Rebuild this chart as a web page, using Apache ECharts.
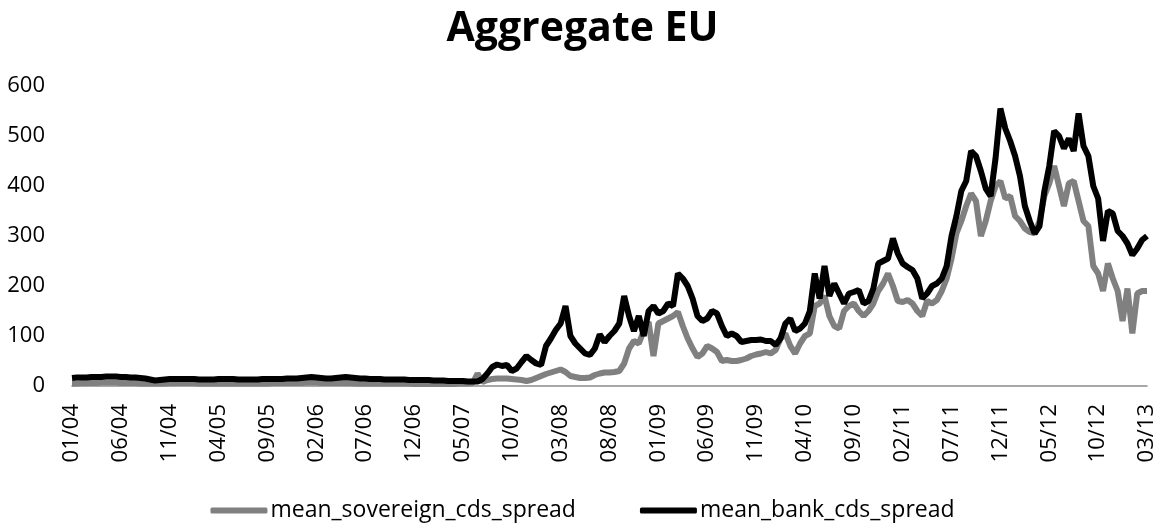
<!DOCTYPE html>
<html>
<head>
<meta charset="utf-8">
<title>Aggregate EU</title>
<script src="https://cdn.jsdelivr.net/npm/echarts@6.0.0/dist/echarts.min.js"></script>
<style>
html, body { margin:0; padding:0; background:#fff; }
#aggChart { width:1165px; height:527px; }
</style>
</head>
<body>
<div id="aggChart"></div>
<script>
// half-month steps, 01/2004 .. 03/2013
var categories = [];
for (var y = 2004; y <= 2013; y++) {
	for (var m = 1; m <= 12; m++) {
		if (y == 2013 && m > 3) break;
		var mm = (m < 10 ? '0' : '') + m;
		categories.push(y + '-' + mm + '-01');
		if (!(y == 2013 && m == 3)) categories.push(y + '-' + mm + '-16');
	}
}

var seriesNames = ['mean_sovereign_cds_spread', 'mean_bank_cds_spread'];

var sovereignSpread = [
	5,5,6,6,6,6,7,7,7,7,6,6,6,6,5,5,5,5,5,5,6,6,6,6,
	6,6,5,5,5,5,5,5,5,5,5,5,5,5,5,5,5,6,6,6,6,6,6,6,
	7,7,7,6,6,6,6,6,6,6,5,5,5,5,5,5,5,5,5,5,5,5,4,4,
	4,4,4,4,4,4,4,5,5,5,6,25,8,12,14,15,15,15,14,13,12,10,12,16,
	20,24,27,30,33,28,20,18,16,16,17,22,25,27,27,28,30,45,75,90,85,110,128,60,
	125,130,135,140,148,120,95,75,58,65,80,75,68,50,52,50,50,52,55,60,63,65,68,65,
	72,95,105,80,65,85,100,105,160,165,180,140,120,115,150,160,165,150,140,150,165,190,205,225,
	200,170,168,172,165,150,140,170,165,172,190,215,255,305,330,360,385,370,300,330,370,400,410,375,
	380,340,330,315,308,305,330,380,405,440,400,360,405,410,370,330,320,240,225,190,245,215,190,130,
	195,105,185,190,190
];

var bankSpread = [
	16,17,17,17,18,18,18,19,19,19,18,18,17,17,16,15,13,11,12,13,14,14,14,14,
	14,14,13,13,13,13,14,14,14,14,13,13,13,13,13,14,14,14,14,14,15,15,15,16,
	17,18,17,16,15,15,16,17,18,17,16,15,15,14,14,14,13,13,13,13,13,12,12,12,
	12,12,11,11,11,10,10,10,10,9,9,9,14,25,38,43,40,42,30,35,48,60,52,45,
	42,80,95,112,125,160,100,85,75,65,62,75,103,88,100,110,125,180,140,110,140,100,150,160,
	145,150,165,160,225,215,200,175,140,130,135,150,145,120,100,105,100,88,90,92,92,93,90,90,
	82,95,125,135,110,115,125,150,225,175,240,180,205,185,165,185,188,192,165,170,195,245,250,255,
	295,265,245,238,232,215,175,185,200,205,215,240,300,340,390,410,470,460,430,395,380,455,555,515,
	490,460,420,360,330,305,320,390,440,510,500,475,495,470,545,480,460,400,375,290,350,345,310,300,
	285,262,275,292,300
];

var yTicks = { min: 0, max: 600, step: 100 };

var FONT = '"Open Sans", "DejaVu Sans", sans-serif';

var aggChartOption = {
	animation: false,
	backgroundColor: '#fff',
	title: {
		text: 'Aggregate EU',
		left: 'center',
		top: 4,
		textStyle: { fontFamily: FONT, fontSize: 41, fontWeight: 'bold', color: '#000' }
	},
	legend: {
		data: seriesNames,
		bottom: 0,
		left: 'center',
		icon: 'roundRect',
		itemWidth: 57,
		itemHeight: 6,
		itemGap: 64,
		textStyle: { fontFamily: FONT, fontSize: 23, color: '#000', padding: [0, 0, 0, -2] }
	},
	grid: {
		left: 72,
		right: 18,
		top: 86,
		bottom: 141,
		containLabel: false
	},
	xAxis: {
		type: 'category',
		boundaryGap: false,
		data: categories,
		axisLine: { lineStyle: { color: '#8c8c8c', width: 1.5 } },
		axisTick: { show: false },
		splitLine: { show: false },
		axisLabel: {
			interval: 9,
			rotate: 90,
			margin: 18,
			fontFamily: FONT,
			fontSize: 22,
			color: '#000',
			formatter: function (v) {
				return v.substr(5, 2) + '/' + v.substr(2, 2);
			}
		}
	},
	yAxis: {
		type: 'value',
		min: yTicks.min,
		max: yTicks.max,
		interval: yTicks.step,
		axisLine: { show: false },
		axisTick: { show: false },
		splitLine: { show: false },
		axisLabel: { margin: 27, fontFamily: FONT, fontSize: 22, color: '#000' }
	},
	series: [
		{
			name: seriesNames[0],
			type: 'line',
			data: sovereignSpread,
			symbol: 'none',
			itemStyle: { color: '#808080' },
			lineStyle: { color: '#808080', width: 6 }
		},
		{
			name: seriesNames[1],
			type: 'line',
			data: bankSpread,
			symbol: 'none',
			itemStyle: { color: '#000' },
			lineStyle: { color: '#000', width: 6 }
		}
	]
};

var aggChart = echarts.init(document.getElementById('aggChart'));
aggChart.setOption(aggChartOption);
</script>
</body>
</html>
